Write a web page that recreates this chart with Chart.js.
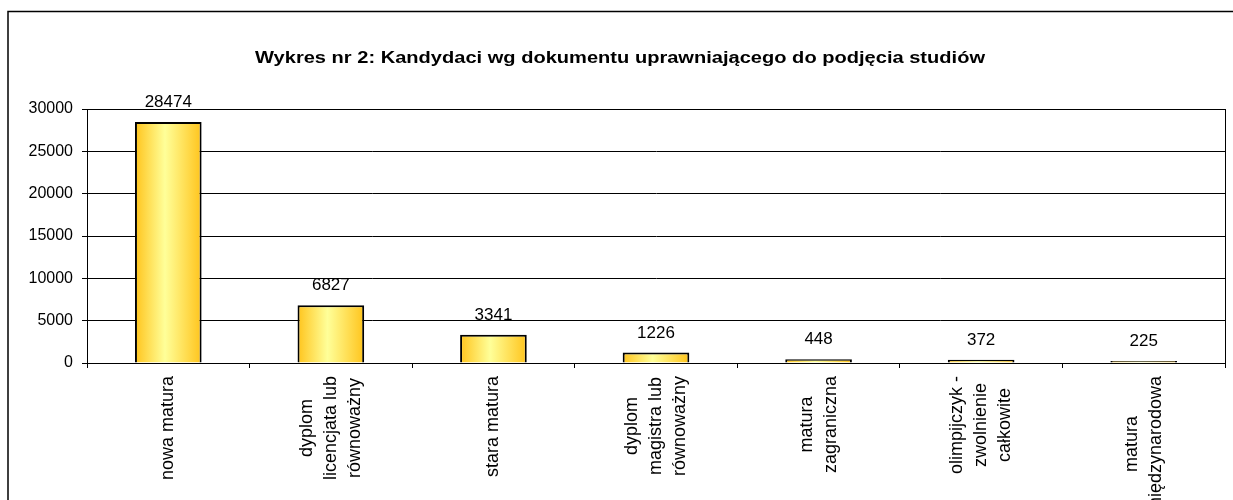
<!DOCTYPE html>
<html><head><meta charset="utf-8">
<script src="https://cdn.jsdelivr.net/npm/chart.js@4.4.0/dist/chart.umd.min.js"></script>
<style>html,body{margin:0;padding:0;background:#fff;overflow:hidden}</style>
</head><body>
<canvas id="c" width="1233" height="500" style="display:block;width:1233px;height:500px"></canvas>
<script>
const chartTitle = 'Wykres nr 2: Kandydaci wg dokumentu uprawniającego do podjęcia studiów';
const categories = [
  ['nowa matura'],
  ['dyplom', 'licencjata lub', 'równoważny'],
  ['stara matura'],
  ['dyplom', 'magistra lub', 'równoważny'],
  ['matura', 'zagraniczna'],
  ['olimpijczyk -', 'zwolnienie', 'całkowite'],
  ['matura', 'międzynarodowa']
];
const candidates = [28474, 6827, 3341, 1226, 448, 372, 225];
const yMin = 0, yMax = 30000, yStep = 5000;

const FONT = '"Liberation Sans", Arial, sans-serif';
Chart.defaults.font.family = FONT;
Chart.defaults.color = '#000';

function barGradient(c) {
  const chart = c.chart, xs = chart.scales && chart.scales.x;
  if (!xs || c.dataIndex === undefined || !chart.chartArea) return '#FFE066';
  const cx = xs.getPixelForValue(c.dataIndex);
  const step = xs.getPixelForValue(1) - xs.getPixelForValue(0);
  const w = step * 0.41;
  const l = cx - w / 2, r = cx + w / 2;
  const g = chart.ctx.createLinearGradient(l, 0, r, 0);
  g.addColorStop(0, '#FFC41C');
  g.addColorStop(0.45, '#FFFF99');
  g.addColorStop(1, '#FFC41C');
  return g;
}

const decorPlugin = {
  id: 'decor',
  afterDraw(chart) {
    const ctx = chart.ctx, a = chart.chartArea;
    ctx.save();
    ctx.strokeStyle = '#000'; ctx.lineWidth = 1.5;
    ctx.strokeRect(8, 11.5, 1260, 520);
    ctx.lineWidth = 1;
    ctx.strokeRect(Math.round(a.left) + 0.5, Math.round(a.top) + 0.5, Math.round(a.right - a.left), Math.round(a.bottom - a.top));
    // title
    ctx.fillStyle = '#000';
    ctx.font = 'bold 16px ' + FONT;
    ctx.textAlign = 'center'; ctx.textBaseline = 'middle';
    const w = ctx.measureText(chartTitle).width;
    ctx.save(); ctx.translate(620, 58); ctx.scale(730 / w, 1.08); ctx.fillText(chartTitle, 0, 0); ctx.restore();
    // data labels
    ctx.font = '17px ' + FONT;
    ctx.textAlign = 'center'; ctx.textBaseline = 'alphabetic';
    chart.getDatasetMeta(0).data.forEach((el, i) => {
      ctx.fillText(String(candidates[i]), el.x, el.y - 15);
    });
    // category labels (rotated, block starts just below the axis)
    const xs = chart.scales.x;
    ctx.font = '18px ' + FONT;
    ctx.textAlign = 'center'; ctx.textBaseline = 'middle';
    const top = a.bottom + 13;
    categories.forEach((lines, i) => {
      const cx = xs.getPixelForValue(i);
      const n = lines.length;
      const L = Math.max(...lines.map(t => ctx.measureText(t).width));
      const cy = top + L / 2;
      lines.forEach((t, j) => {
        const x = cx + (j - (n - 1) / 2) * 24;
        ctx.save(); ctx.translate(x, cy); ctx.rotate(-Math.PI / 2);
        ctx.fillText(t, 0, 0); ctx.restore();
      });
    });
    ctx.restore();
  }
};

new Chart(document.getElementById('c'), {
  type: 'bar',
  data: {
    labels: categories,
    datasets: [{
      data: candidates,
      backgroundColor: barGradient,
      borderColor: '#000',
      borderWidth: 2,
      borderSkipped: 'start',
      categoryPercentage: 1,
      barPercentage: 0.41
    }]
  },
  options: {
    responsive: false,
    animation: false,
    devicePixelRatio: 1,
    layout: { padding: { top: 109, right: 8, left: 0, bottom: 0 } },
    plugins: { legend: { display: false }, tooltip: { enabled: false }, title: { display: false } },
    scales: {
      x: {
        afterFit(s) { s.height = 137; },
        grid: { display: true, drawOnChartArea: false, drawTicks: true, tickLength: 5, color: '#000', offset: true },
        border: { display: true, color: '#000', width: 1 },
        ticks: { display: false }
      },
      y: {
        min: yMin, max: yMax,
        afterFit(s) { s.width = 87; },
        grid: { color: '#000', lineWidth: 1, tickLength: 5, tickColor: '#000' },
        border: { display: true, color: '#000', width: 1 },
        ticks: { stepSize: yStep, padding: 9, color: '#000', font: { size: 16, family: FONT }, callback: v => String(v) }
      }
    }
  },
  plugins: [decorPlugin]
});
</script>
</body></html>
